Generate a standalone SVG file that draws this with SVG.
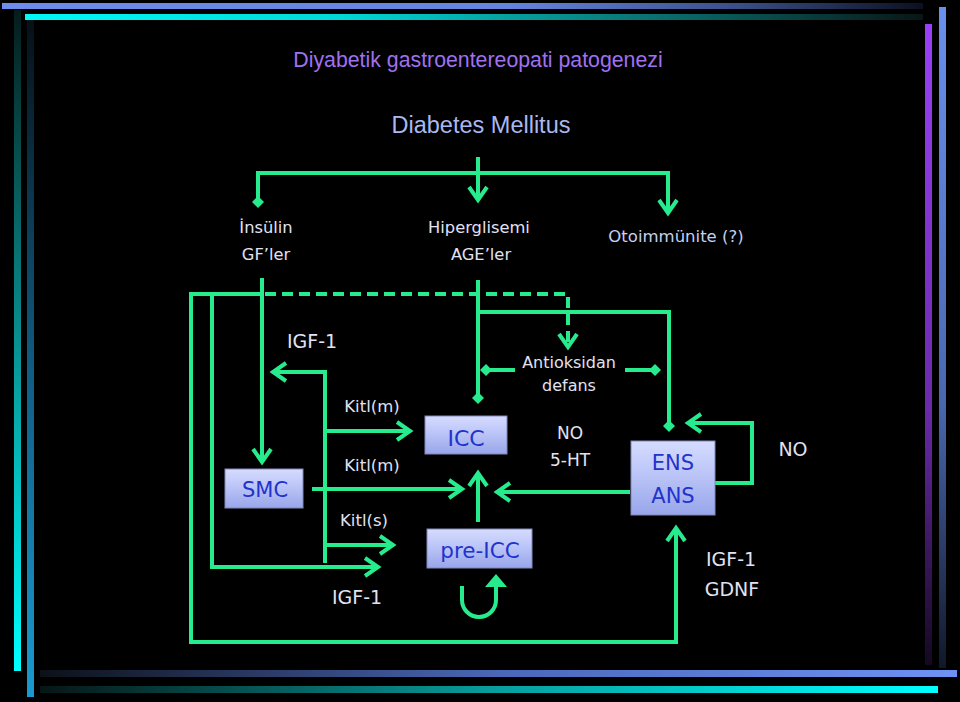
<svg xmlns="http://www.w3.org/2000/svg" width="960" height="702" viewBox="0 0 960 702">
<defs>
<style>
.ln{fill:none;stroke:#26ec8e;stroke-width:4}
.dash{stroke-dasharray:11 6}
.lbl{font-family:"DejaVu Sans","Liberation Sans",sans-serif;fill:#e2e2f2;text-anchor:middle}
.box{fill:url(#gBox);stroke:#8088b8;stroke-width:1}
.btx{font-family:"DejaVu Sans","Liberation Sans",sans-serif;fill:#2233cc;text-anchor:middle}
</style>
<marker id="arr" markerUnits="userSpaceOnUse" overflow="visible" orient="auto" refX="0" refY="0" markerWidth="20" markerHeight="20">
<path d="M-13,-9 L0,0 L-13,9" fill="none" stroke="#26ec8e" stroke-width="4"/>
</marker>
<marker id="dia" markerUnits="userSpaceOnUse" overflow="visible" orient="auto" refX="0" refY="0" markerWidth="14" markerHeight="14">
<path d="M-6,0 L0,-6 L6,0 L0,6 Z" fill="#26ec8e"/>
</marker>
<linearGradient id="gBox" x1="0" y1="0" x2="0" y2="1">
<stop offset="0" stop-color="#d6dcff"/>
<stop offset="0.5" stop-color="#b8c2f6"/>
<stop offset="1" stop-color="#98a6ea"/>
</linearGradient>
<linearGradient id="gTopBlue" x1="0" y1="0" x2="1" y2="0">
<stop offset="0" stop-color="#6d8ceb"/>
<stop offset="0.55" stop-color="#6584de"/>
<stop offset="0.8" stop-color="#3a4e88"/>
<stop offset="1" stop-color="#0c1020"/>
</linearGradient>
<linearGradient id="gTopCyan" x1="0" y1="0" x2="1" y2="0">
<stop offset="0" stop-color="#00f8f8"/>
<stop offset="0.35" stop-color="#00d8d8"/>
<stop offset="0.7" stop-color="#0a7070"/>
<stop offset="1" stop-color="#081616"/>
</linearGradient>
<linearGradient id="gLeftCyan" x1="0" y1="0" x2="0" y2="1">
<stop offset="0" stop-color="#061c1c"/>
<stop offset="0.5" stop-color="#0a9090"/>
<stop offset="1" stop-color="#00ffff"/>
</linearGradient>
<linearGradient id="gLeftBlue" x1="0" y1="0" x2="0" y2="1">
<stop offset="0" stop-color="#061018"/>
<stop offset="0.5" stop-color="#105a80"/>
<stop offset="1" stop-color="#1a9ad0"/>
</linearGradient>
<linearGradient id="gRightPurple" x1="0" y1="0" x2="0" y2="1">
<stop offset="0" stop-color="#9a40f8"/>
<stop offset="0.6" stop-color="#6a2aaa"/>
<stop offset="1" stop-color="#140820"/>
</linearGradient>
<linearGradient id="gRightBlue" x1="0" y1="0" x2="0" y2="1">
<stop offset="0" stop-color="#6a90ee"/>
<stop offset="0.6" stop-color="#4a68b0"/>
<stop offset="1" stop-color="#101828"/>
</linearGradient>
<linearGradient id="gBotBlue" x1="0" y1="0" x2="1" y2="0">
<stop offset="0" stop-color="#0c1018"/>
<stop offset="0.5" stop-color="#4a68b8"/>
<stop offset="1" stop-color="#6e92f4"/>
</linearGradient>
<linearGradient id="gBotCyan" x1="0" y1="0" x2="1" y2="0">
<stop offset="0" stop-color="#061616"/>
<stop offset="0.5" stop-color="#089c9c"/>
<stop offset="1" stop-color="#00ffff"/>
</linearGradient>
</defs>
<rect x="0" y="0" width="960" height="702" fill="#000"/>

<g id="frame">
<rect x="2" y="3" width="921" height="6" fill="url(#gTopBlue)"/>
<rect x="25" y="14" width="898" height="6" fill="url(#gTopCyan)"/>
<rect x="14" y="10" width="7" height="661" fill="url(#gLeftCyan)"/>
<rect x="27" y="20" width="7" height="677" fill="url(#gLeftBlue)"/>
<rect x="925" y="24" width="7" height="641" fill="url(#gRightPurple)"/>
<rect x="939" y="7" width="7" height="661" fill="url(#gRightBlue)"/>
<rect x="40" y="670" width="917" height="7" fill="url(#gBotBlue)"/>
<rect x="40" y="686" width="898" height="7" fill="url(#gBotCyan)"/>
</g>

<g id="titles">
<text x="478" y="67" font-family="Liberation Sans, Arial, sans-serif" font-size="21.3" fill="#a070f0" text-anchor="middle">Diyabetik gastroentereopati patogenezi</text>
<text x="481" y="133" font-family="Liberation Sans, Arial, sans-serif" font-size="23.5" fill="#aab8f0" text-anchor="middle">Diabetes Mellitus</text>
</g>

<g id="connectors">
<path class="ln" d="M478,157 V200" marker-end="url(#arr)"/>
<path class="ln" d="M258,202 V173 H668 V213" marker-start="url(#dia)" marker-end="url(#arr)"/>
<path class="ln" d="M263,294 H191 V642 H676 V528" marker-end="url(#arr)"/>
<path class="ln" d="M212,294 V567 H378" marker-end="url(#arr)"/>
<path class="ln dash" d="M265,294 H568 V347" marker-end="url(#arr)"/>
<path class="ln" d="M262,278 V462" marker-end="url(#arr)"/>
<path class="ln" d="M478,280 V398" marker-end="url(#dia)"/>
<path class="ln" d="M478,312 H669 V426" marker-end="url(#dia)"/>
<path class="ln" d="M515,370 H486" marker-end="url(#dia)"/>
<path class="ln" d="M625,370 H655" marker-end="url(#dia)"/>
<path class="ln" d="M325,563 V372 H273" marker-end="url(#arr)"/>
<path class="ln" d="M325,431 H410" marker-end="url(#arr)"/>
<path class="ln" d="M325,545 H393" marker-end="url(#arr)"/>
<path class="ln" d="M312,489 H462" marker-end="url(#arr)"/>
<path class="ln" d="M478,522 V473" marker-end="url(#arr)"/>
<path class="ln" d="M630,492 H497" marker-end="url(#arr)"/>
<path class="ln" d="M715,483 H752 V423 H688" marker-end="url(#arr)"/>
<path class="ln" d="M462,586 V600 A17,17 0 0 0 496,600 V586"/>
<path d="M485,587 L496,574 L507,587 Z" fill="#26ec8e"/>
</g>

<g id="insulin">
<text class="lbl" x="266" y="233" font-size="16.3">İnsülin</text>
<text class="lbl" x="266" y="260" font-size="16.3">GF’ler</text>
</g>
<g id="hiperglisemi">
<text class="lbl" x="479" y="233" font-size="16.3">Hiperglisemi</text>
<text class="lbl" x="481" y="260" font-size="16.3">AGE’ler</text>
</g>
<g id="otoimmunite">
<text class="lbl" x="676" y="242" font-size="16.5" style="fill:#c4d0f4">Otoimmünite (?)</text>
</g>
<g id="igf1-top"><text class="lbl" x="312" y="348" font-size="19">IGF-1</text></g>
<g id="antioksidan">
<text class="lbl" x="569" y="368" font-size="16">Antioksidan</text>
<text class="lbl" x="569" y="391" font-size="16">defans</text>
</g>
<g id="kitl-m1"><text class="lbl" x="372" y="412" font-size="16.5">Kitl(m)</text></g>
<g id="kitl-m2"><text class="lbl" x="372" y="471" font-size="16.5">Kitl(m)</text></g>
<g id="kitl-s"><text class="lbl" x="364" y="526" font-size="16.5">Kitl(s)</text></g>
<g id="no-5ht">
<text class="lbl" x="570" y="439" font-size="17">NO</text>
<text class="lbl" x="570" y="466" font-size="17">5-HT</text>
</g>
<g id="igf1-bottom"><text class="lbl" x="357" y="604" font-size="19">IGF-1</text></g>
<g id="igf1-gdnf">
<text class="lbl" x="731" y="566" font-size="19">IGF-1</text>
<text class="lbl" x="732" y="596" font-size="19">GDNF</text>
</g>
<g id="no-right"><text class="lbl" x="793" y="456" font-size="19">NO</text></g>

<g id="icc">
<rect class="box" x="425" y="416" width="82" height="38"/>
<text class="btx" x="466" y="446" font-size="22">ICC</text>
</g>
<g id="smc">
<rect class="box" x="225" y="469" width="78" height="39"/>
<text class="btx" x="265" y="497" font-size="21">SMC</text>
</g>
<g id="pre-icc">
<rect class="box" x="427" y="529" width="105" height="39"/>
<text class="btx" x="480" y="558" font-size="21.5">pre-ICC</text>
</g>
<g id="ens-ans">
<rect class="box" x="631" y="441" width="84" height="74"/>
<text class="btx" x="673" y="470" font-size="21">ENS</text>
<text class="btx" x="673" y="503" font-size="21">ANS</text>
</g>
</svg>
